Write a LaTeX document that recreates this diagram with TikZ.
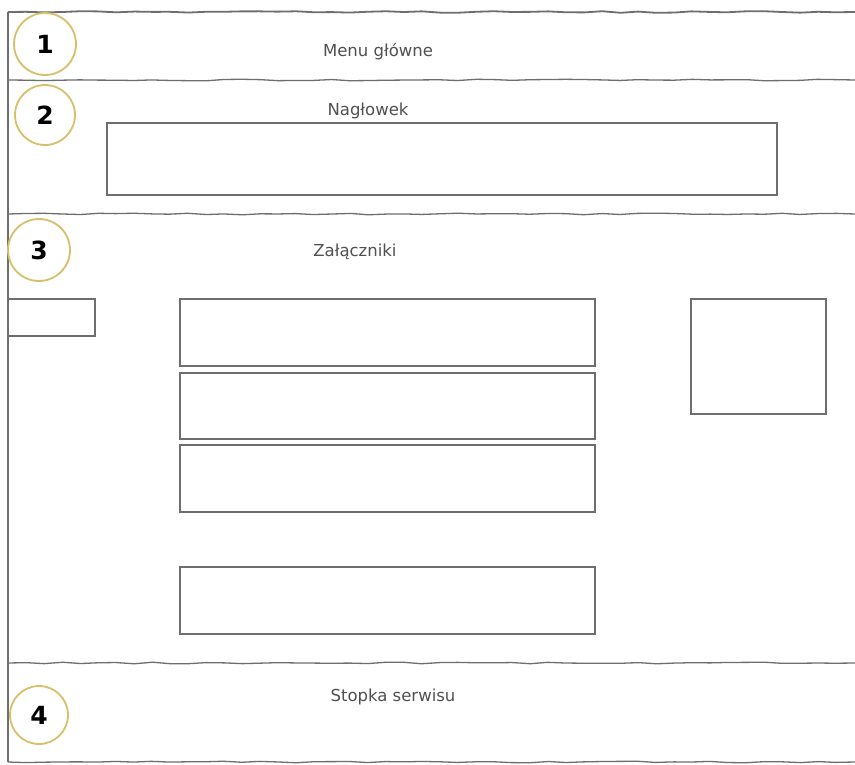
\documentclass[tikz,border=0pt]{standalone}
\usepackage{fontspec}
\setmainfont{DejaVu Sans}
\usetikzlibrary{decorations.pathmorphing}
\definecolor{linegray}{HTML}{6E6E6E}
\definecolor{txtgray}{HTML}{505050}
\definecolor{gold}{HTML}{D8BF6A}
\begin{document}
\begin{tikzpicture}[x=1pt,y=1pt,
  sketch/.style={draw=linegray,line width=1.3pt,decorate,decoration={random steps,segment length=18pt,amplitude=0.8pt}},
  frame/.style={draw=linegray,line width=1.4pt},
  box/.style={draw=linegray,line width=1.1pt},
  badge/.style={circle,draw=gold,line width=1.8pt,minimum width=60pt,inner sep=0pt,font=\fontsize{25}{25}\selectfont\bfseries,text=black},
  title/.style={font=\fontsize{16.5}{18}\selectfont,text=txtgray}]
\useasboundingbox (0,0) rectangle (855,-764);
\fill[white] (0,0) rectangle (855,-764);
\pgfmathsetseed{7}
% section separators
\coordinate (t0) at (8,-12);   \coordinate (t1) at (855,-12);
\coordinate (a0) at (8,-80);   \coordinate (a1) at (855,-80);
\coordinate (b0) at (8,-214);  \coordinate (b1) at (855,-214);
\coordinate (c0) at (8,-663);  \coordinate (c1) at (855,-663);
\coordinate (d0) at (8,-762);  \coordinate (d1) at (855,-762);
\draw[sketch,line width=1.8pt] (t0) -- (t1);
\draw[sketch] (a0) -- (a1);
\draw[sketch] (b0) -- (b1);
\draw[sketch] (c0) -- (c1);
\draw[sketch] (d0) -- (d1);
% titles
\node[title] (menu) at (378,-52) {Menu główne};
\node[title] (nagl) at (368,-111) {Nagłowek};
\node[title] (zal) at (355,-252) {Załączniki};
\node[title] (stop) at (393,-697) {Stopka serwisu};
% header box
\draw[box] (107,-123) rectangle (777,-195);
% attachments area
\draw[box] (8,-299) -- (95,-299) -- (95,-336) -- (8,-336);
\draw[box] (180,-299) rectangle (595,-366);
\draw[box] (180,-373) rectangle (595,-439);
\draw[box] (180,-445) rectangle (595,-512);
\draw[box] (180,-567) rectangle (595,-634);
\draw[box] (691,-299) rectangle (826,-414);
\draw[frame] (t0) -- (d0);
% badges
\node[badge,minimum width=62pt] (n1) at (45,-44) {1};
\node[badge,minimum width=60pt] (n2) at (45,-115) {2};
\node[badge,minimum width=62pt] (n3) at (39,-250) {3};
\node[badge,minimum width=58pt] (n4) at (39,-715) {4};
\end{tikzpicture}
\end{document}
